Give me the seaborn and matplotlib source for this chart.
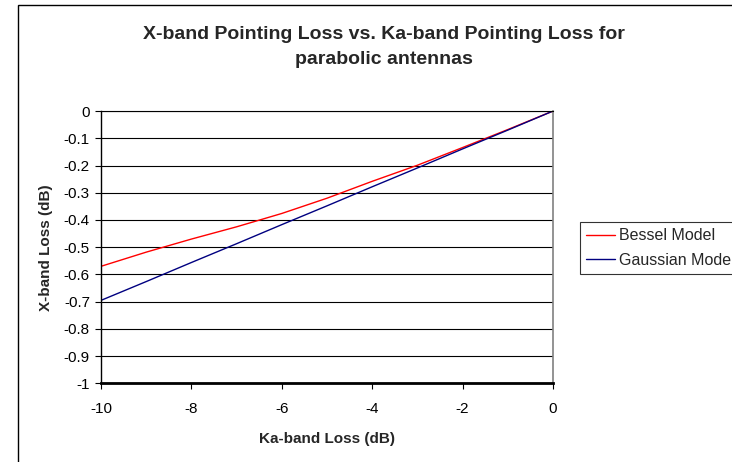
import matplotlib
matplotlib.use('Agg')
import matplotlib.pyplot as plt
import matplotlib.patches as patches
import pandas as pd
import seaborn as sns

# Data
ka_loss = [-10, -9, -8, -7, -6, -5, -4, -3, -2, -1, 0]
bessel_loss = [-0.570, -0.518, -0.470, -0.425, -0.376, -0.320, -0.258, -0.199, -0.134, -0.068, 0.0]
gaussian_loss = [-0.695, -0.626, -0.556, -0.487, -0.417, -0.348, -0.278, -0.209, -0.139, -0.070, 0.0]
models = ['Bessel Model', 'Gaussian Model']
colors = ['#FF0000', '#000080']
y_ticks = [0, -0.1, -0.2, -0.3, -0.4, -0.5, -0.6, -0.7, -0.8, -0.9, -1]
y_tick_labels = ['0', '-0.1', '-0.2', '-0.3', '-0.4', '-0.5', '-0.6', '-0.7', '-0.8', '-0.9', '-1']
x_ticks = [-10, -8, -6, -4, -2, 0]

df = pd.DataFrame({
    'ka': ka_loss + ka_loss,
    'x': bessel_loss + gaussian_loss,
    'model': [models[0]] * len(ka_loss) + [models[1]] * len(ka_loss),
})

sns.set_style('white')
plt.rcParams['font.family'] = ['Liberation Sans', 'DejaVu Sans']
plt.rcParams['axes.unicode_minus'] = False

fig = plt.figure(figsize=(7.32, 4.62), dpi=100)
ax = fig.add_axes([0.138, 0.170, 0.6175, 0.5897])

sns.lineplot(data=df, x='ka', y='x', hue='model', palette=colors,
             linewidth=1.0, ax=ax, legend=False)

ax.set_xlim(-10, 0)
ax.set_ylim(-1, 0)
ax.set_yticks(y_ticks)
ax.set_yticklabels(y_tick_labels)
ax.set_xticks(x_ticks)
ax.set_xticklabels([str(t) for t in x_ticks])
ax.yaxis.grid(True, color='black', linewidth=0.8)
ax.set_axisbelow(True)
ax.tick_params(axis='both', direction='out', length=4, width=0.8,
               colors='black', labelsize=11, pad=4)
ax.tick_params(axis='x', bottom=True, pad=9)
ax.tick_params(axis='y', left=True)

for side in ['left', 'bottom']:
    ax.spines[side].set_color('black')
ax.spines['left'].set_linewidth(1.0)
ax.spines['bottom'].set_linewidth(2.0)
ax.spines['right'].set_color('#808080')
ax.spines['right'].set_linewidth(1.2)
ax.spines['top'].set_color('black')
ax.spines['top'].set_linewidth(0.8)

ax.set_xlabel('Ka-band Loss (dB)', fontsize=11, fontweight='bold', labelpad=12)
ax.set_ylabel('X-band Loss (dB)', fontsize=11, fontweight='bold', labelpad=8)

fig.text(0.525, 0.898, 'X-band Pointing Loss vs. Ka-band Pointing Loss for\nparabolic antennas',
         ha='center', va='center', fontsize=14, fontweight='bold', linespacing=1.65)

# Legend (clipped by figure edge like the reference)
handles = [plt.Line2D([], [], color=c, lw=1.0) for c in colors]
leg = fig.legend(handles, models, loc='upper left', bbox_to_anchor=(0.7923, 0.5195),
                 borderaxespad=0, frameon=True, fancybox=False, edgecolor='black',
                 fontsize=11.5, handlelength=1.8, handletextpad=0.25, borderpad=0.4,
                 labelspacing=0.6)
leg.get_frame().set_linewidth(0.8)

# outer chart border
border = patches.Rectangle((0.0246, -0.1), 1.1, 1.089, transform=fig.transFigure,
                           fill=False, edgecolor='black', linewidth=1.0, clip_on=False)
fig.patches.append(border)

fig.savefig('out.png', dpi=100)
